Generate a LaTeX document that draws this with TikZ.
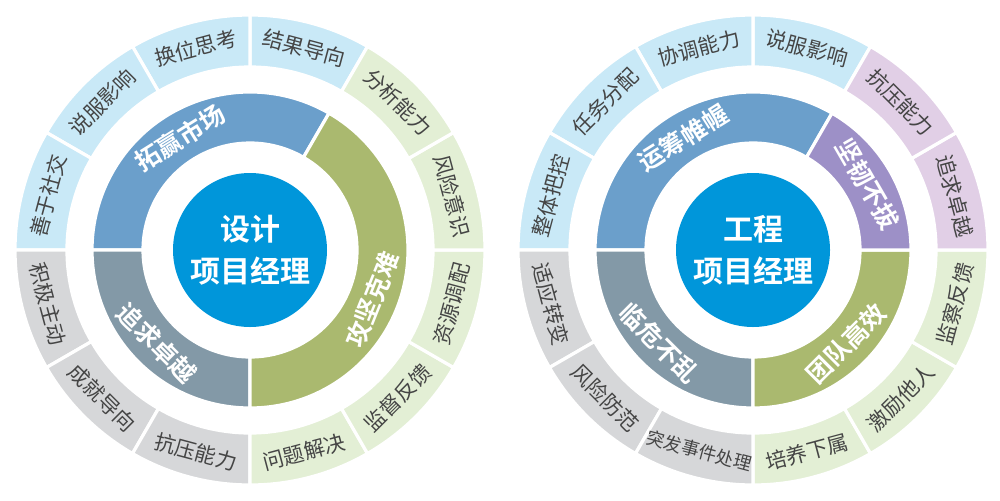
\documentclass[tikz,border=0pt]{standalone}
\usepackage{fontspec}
\newfontfamily\cjk{Noto Sans CJK SC}[BoldFont={Noto Sans CJK SC Bold}]
\definecolor{outBlue}{HTML}{C9E9F7}
\definecolor{outGreen}{HTML}{E3EFD5}
\definecolor{outGray}{HTML}{D6D7D9}
\definecolor{outPurple}{HTML}{E1CFE6}
\definecolor{midBlue}{HTML}{6B9FCB}
\definecolor{midGreen}{HTML}{AAB96F}
\definecolor{midGray}{HTML}{8399A7}
\definecolor{midPurple}{HTML}{9D90C7}
\definecolor{coreBlue}{HTML}{0096DA}
\definecolor{txtGray}{HTML}{454545}
% annular sector: centre, inner r, outer r, start, end, colour
\newcommand{\ringpart}[6]{%
  \filldraw[fill=#6, draw=white, line width=1.6pt] ($#1+(#4:#3)$) arc (#4:#5:#3) -- ($#1+(#5:#2)$) arc (#5:#4:#2) -- cycle;}
% text along the ring, upright in both halves
\newcommand{\ringtext}[5]{%
  \pgfmathsetmacro{\rot}{ifthenelse(sin(#3)>=0,#3-90,#3+90)}%
  \node[#5, rotate=\rot] at ($#1+(#3:#2)$) {#4};}
\usetikzlibrary{calc}
\tikzset{
  outtxt/.style={font=\cjk\fontsize{10.5}{12}\selectfont, text=txtGray, inner sep=0pt},
  smalltxt/.style={font=\cjk\fontsize{9}{11}\selectfont, text=txtGray, inner sep=0pt},
  midtxt/.style={font=\cjk\bfseries\fontsize{12.5}{15}\selectfont, text=white, inner sep=0pt},
  coretxt/.style={font=\cjk\bfseries\fontsize{15}{21}\selectfont, text=white, align=center}
}
\begin{document}
\begin{tikzpicture}[x=0.5pt,y=0.5pt]
\useasboundingbox (0,0) rectangle (1000,500);
\fill[white] (0,0) rectangle (1000,500);

%Shape: left outer ring
\foreach \a/\c/\t in {60/outBlue/结果导向, 90/outBlue/换位思考, 120/outBlue/说服影响, 150/outBlue/善于社交,
  180/outGray/积极主动, 210/outGray/成就导向, 240/outGray/抗压能力,
  270/outGreen/问题解决, 300/outGreen/监督反馈, 330/outGreen/资源调配, 0/outGreen/风险意识, 30/outGreen/分析能力} {
  \pgfmathsetmacro{\b}{\a+30}
  \ringpart{(250,250)}{183}{235}{\a}{\b}{\c}
  \pgfmathsetmacro{\m}{\a+15}
  \ringtext{(250,250)}{209}{\m}{\t}{outtxt}
}
%Shape: left middle ring
\ringpart{(250,250)}{107}{158}{60}{180}{midBlue}
\ringpart{(250,250)}{107}{158}{180}{270}{midGray}
\ringpart{(250,250)}{107}{158}{-90}{60}{midGreen}
\ringtext{(250,250)}{132}{122}{拓赢市场}{midtxt}
\ringtext{(250,250)}{132}{225}{追求卓越}{midtxt}
\ringtext{(250,250)}{132}{-22}{攻坚克难}{midtxt}
%Shape: left core
\fill[coreBlue] (250,250) circle (77);
\node[coretxt] (coreL) at (250,250) {设计\\项目经理};

%Shape: right outer ring
\foreach \a/\c/\t in {60/outBlue/说服影响, 90/outBlue/协调能力, 120/outBlue/任务分配, 150/outBlue/整体把控,
  180/outGray/适应转变, 210/outGray/风险防范,
  270/outGreen/培养下属, 300/outGreen/激励他人, 330/outGreen/监察反馈, 0/outPurple/追求卓越, 30/outPurple/抗压能力} {
  \pgfmathsetmacro{\b}{\a+30}
  \ringpart{(753,250)}{183}{235}{\a}{\b}{\c}
  \pgfmathsetmacro{\m}{\a+15}
  \ringtext{(753,250)}{209}{\m}{\t}{outtxt}
}
\ringpart{(753,250)}{183}{235}{240}{270}{outGray}
\ringtext{(753,250)}{208}{255}{突发事件处理}{smalltxt}
%Shape: right middle ring
\ringpart{(753,250)}{107}{158}{60}{180}{midBlue}
\ringpart{(753,250)}{107}{158}{180}{270}{midGray}
\ringpart{(753,250)}{107}{158}{-90}{0}{midGreen}
\ringpart{(753,250)}{107}{158}{0}{60}{midPurple}
\ringtext{(753,250)}{132}{122}{运筹帷幄}{midtxt}
\ringtext{(753,250)}{132}{30}{坚韧不拔}{midtxt}
\ringtext{(753,250)}{132}{225}{临危不乱}{midtxt}
\ringtext{(753,250)}{132}{-45}{团队高效}{midtxt}
%Shape: right core
\fill[coreBlue] (753,250) circle (77);
\node[coretxt] (coreR) at (753,250) {工程\\项目经理};
\end{tikzpicture}
\end{document}
